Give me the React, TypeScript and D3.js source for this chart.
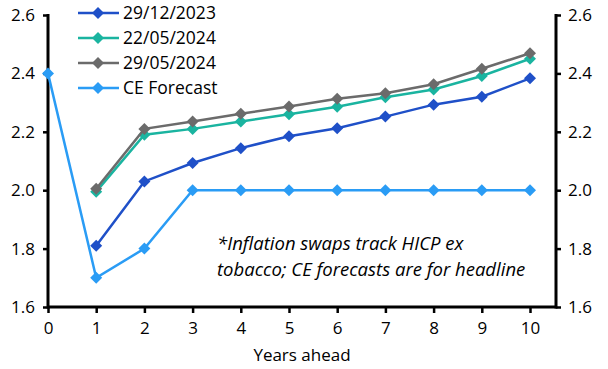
import React, { useRef, useEffect } from 'react';
import * as d3 from 'd3';

const years = [0, 1, 2, 3, 4, 5, 6, 7, 8, 9, 10];
const yTicks = [1.6, 1.8, 2.0, 2.2, 2.4, 2.6];

// swaps curves start at year 1
const dec2023 = [null, 1.81, 2.03, 2.093, 2.144, 2.185, 2.212, 2.252, 2.293, 2.32, 2.383];
const may22 = [null, 1.995, 2.19, 2.21, 2.235, 2.26, 2.286, 2.318, 2.345, 2.391, 2.45];
const may29 = [null, 2.005, 2.21, 2.235, 2.262, 2.287, 2.313, 2.332, 2.363, 2.416, 2.469];
const ceForecast = [2.4, 1.7, 1.8, 2.0, 2.0, 2.0, 2.0, 2.0, 2.0, 2.0, 2.0];

const seriesNames = ['29/12/2023', '22/05/2024', '29/05/2024', 'CE Forecast'];
const seriesColors = ['#1f50c8', '#1ab4a0', '#6b6b6b', '#2a9cf5'];
const seriesValues = [dec2023, may22, may29, ceForecast];

const noteLines = ['*Inflation swaps track HICP ex', 'tobacco; CE forecasts are for headline'];

const W = 608;
const H = 369;
const FONT = 'Open Sans, sans-serif';

export default function App() {
  const svgRef = useRef<SVGSVGElement>(null);

  useEffect(() => {
    const svg = d3.select(svgRef.current);
    svg.selectAll('*').remove();

    const left = 48;
    const right = 556;
    const top = 15;
    const bottom = 307;

    const x = d3.scaleLinear().domain([0, 10]).range([left, 530]);
    const y = d3.scaleLinear().domain([1.6, 2.6]).range([bottom, top]);

    const g = svg.append('g');

    // axes
    const axisStyle = (sel: any) => {
      sel.select('.domain').remove();
      sel.selectAll('.tick line').attr('stroke', '#000').attr('stroke-width', 2.5);
      sel.selectAll('.tick text').attr('font-family', FONT).attr('font-size', 17).attr('fill', '#000');
    };

    g.append('g')
      .attr('transform', `translate(${left},0)`)
      .call(d3.axisLeft(y).tickValues(yTicks).tickFormat(d3.format('.1f')).tickSize(5).tickPadding(8))
      .call(axisStyle);

    g.append('g')
      .attr('transform', `translate(${right},0)`)
      .call(d3.axisRight(y).tickValues(yTicks).tickFormat(d3.format('.1f')).tickSize(5).tickPadding(7))
      .call(axisStyle);

    g.append('g')
      .attr('transform', `translate(0,${bottom})`)
      .call(d3.axisBottom(x).tickValues(years).tickFormat(d3.format('d')).tickSize(6).tickPadding(9))
      .call(axisStyle);

    g.append('line').attr('x1', left).attr('x2', left).attr('y1', top - 1).attr('y2', bottom + 1.5)
      .attr('stroke', '#000').attr('stroke-width', 3);
    g.append('line').attr('x1', right).attr('x2', right).attr('y1', top - 1).attr('y2', bottom + 1.5)
      .attr('stroke', '#000').attr('stroke-width', 3);
    g.append('line').attr('x1', left).attr('x2', right).attr('y1', bottom).attr('y2', bottom)
      .attr('stroke', '#000').attr('stroke-width', 3);

    g.append('text')
      .attr('x', (left + right) / 2)
      .attr('y', 361)
      .attr('text-anchor', 'middle')
      .attr('font-family', FONT)
      .attr('font-size', 17)
      .text('Years ahead');

    // lines
    const diamond = d3.symbol().type(d3.symbolSquare).size(72);
    const line = d3.line<number | null>()
      .defined(d => d !== null)
      .x((_, i) => x(years[i]))
      .y(d => y(d as number));

    seriesValues.forEach((vals, si) => {
      const color = seriesColors[si];
      g.append('path')
        .attr('d', line(vals))
        .attr('fill', 'none')
        .attr('stroke', color)
        .attr('stroke-width', 2.5);
      g.selectAll(null)
        .data(vals.map((v, i) => ({ v, i })).filter(d => d.v !== null))
        .enter()
        .append('path')
        .attr('d', diamond)
        .attr('transform', d => `translate(${x(years[d.i])},${y(d.v as number)}) rotate(45)`)
        .attr('fill', color);
    });

    // legend
    const legend = g.append('g');
    seriesNames.forEach((name, i) => {
      const ly = 13 + i * 25;
      legend.append('line').attr('x1', 78).attr('x2', 119).attr('y1', ly).attr('y2', ly)
        .attr('stroke', seriesColors[i]).attr('stroke-width', 2.5);
      legend.append('path').attr('d', diamond).attr('transform', `translate(98,${ly}) rotate(45)`)
        .attr('fill', seriesColors[i]);
      legend.append('text')
        .attr('x', 123)
        .attr('y', ly)
        .attr('dy', '0.36em')
        .attr('font-family', FONT)
        .attr('font-size', 17.5)
        .text(name);
    });

    // note
    noteLines.forEach((t, i) => {
      g.append('text')
        .attr('x', 217)
        .attr('y', 250 + i * 26)
        .attr('font-family', FONT)
        .attr('font-style', 'italic')
        .attr('font-size', 18.5)
        .text(t);
    });
  }, []);

  return (
    <svg
      ref={svgRef}
      width={W}
      height={H}
      style={{ position: 'absolute', left: 0, top: 0, background: '#fff' }}
    />
  );
}
